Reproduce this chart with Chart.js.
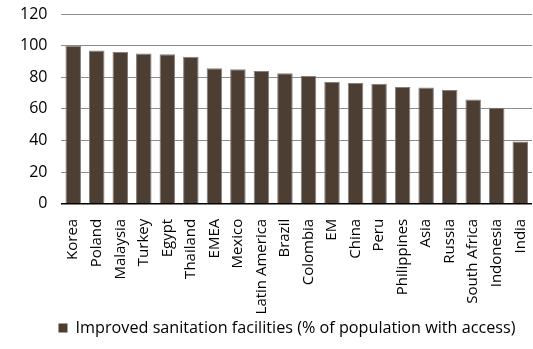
<!DOCTYPE html>
<html>
<head>
<meta charset="utf-8">
<script src="https://cdn.jsdelivr.net/npm/chart.js@4"></script>
<style>
  html, body { margin: 0; padding: 0; background: #fff; }
  #wrap { width: 533px; height: 349px; }
</style>
</head>
<body>
<div id="wrap"><canvas id="chart"></canvas></div>
<script>
// categories and values
const countries = ['Korea', 'Poland', 'Malaysia', 'Turkey', 'Egypt', 'Thailand', 'EMEA', 'Mexico',
  'Latin America', 'Brazil', 'Colombia', 'EM', 'China', 'Peru', 'Philippines', 'Asia', 'Russia',
  'South Africa', 'Indonesia', 'India'];
const sanitation = [100, 97, 96, 95, 94.5, 93, 85.7, 85, 84, 82.6, 80.8, 77, 76.4, 75.9, 73.8, 73.5, 72, 66, 60.7, 39.4];
const yTicks = [0, 20, 40, 60, 80, 100, 120];
const seriesName = 'Improved sanitation facilities (% of population with access)';

// nudge the legend a bit right, like the original
const legendShift = {
  id: 'legendShift',
  afterLayout(chart) {
    if (chart.legend) chart.legend.left += 36;
  }
};

const ctx = document.getElementById('chart').getContext('2d');
const chart = new Chart(ctx, {
  type: 'bar',
  data: {
    labels: countries,
    datasets: [{
      label: seriesName,
      data: sanitation,
      backgroundColor: '#4d3e33',
      borderColor: '#8a807a',
      borderWidth: { top: 1, left: 1, right: 1, bottom: 0 },
      categoryPercentage: 1,
      barPercentage: 0.66
    }]
  },
  options: {
    responsive: true,
    maintainAspectRatio: false,
    animation: false,
    layout: { padding: { left: 6, right: 1, top: 14, bottom: 3 } },
    scales: {
      y: {
        min: 0,
        max: 120,
        afterBuildTicks: axis => { axis.ticks = yTicks.map(v => ({ value: v })); },
        afterFit: axis => { axis.paddingTop = 0; },
        border: { display: false },
        grid: {
          color: c => c.tick.value === 0 ? '#000000' : '#8c8c8c',
          lineWidth: c => c.tick.value === 0 ? 1.5 : 1,
          drawTicks: false
        },
        ticks: {
          color: '#000',
          padding: 14,
          font: { family: 'Open Sans', size: 16 }
        }
      },
      x: {
        grid: { display: false },
        border: { display: false },
        afterFit: axis => {
          axis.height = 110;
          axis.paddingLeft = 0;
          axis.paddingRight = 0;
        },
        ticks: {
          color: '#000',
          minRotation: 90,
          maxRotation: 90,
          autoSkip: false,
          padding: 7,
          font: { family: 'Open Sans', size: 15 }
        }
      }
    },
    plugins: {
      tooltip: { enabled: false },
      legend: {
        display: true,
        position: 'bottom',
        labels: {
          color: '#000',
          boxWidth: 9,
          boxHeight: 9,
          padding: 6,
          font: { family: 'Open Sans', size: 16.2 },
          generateLabels: c => [{
            text: seriesName,
            fillStyle: '#4d3e33',
            strokeStyle: '#4d3e33',
            lineWidth: 0,
            datasetIndex: 0
          }]
        }
      }
    }
  },
  plugins: [legendShift]
});
</script>
</body>
</html>
